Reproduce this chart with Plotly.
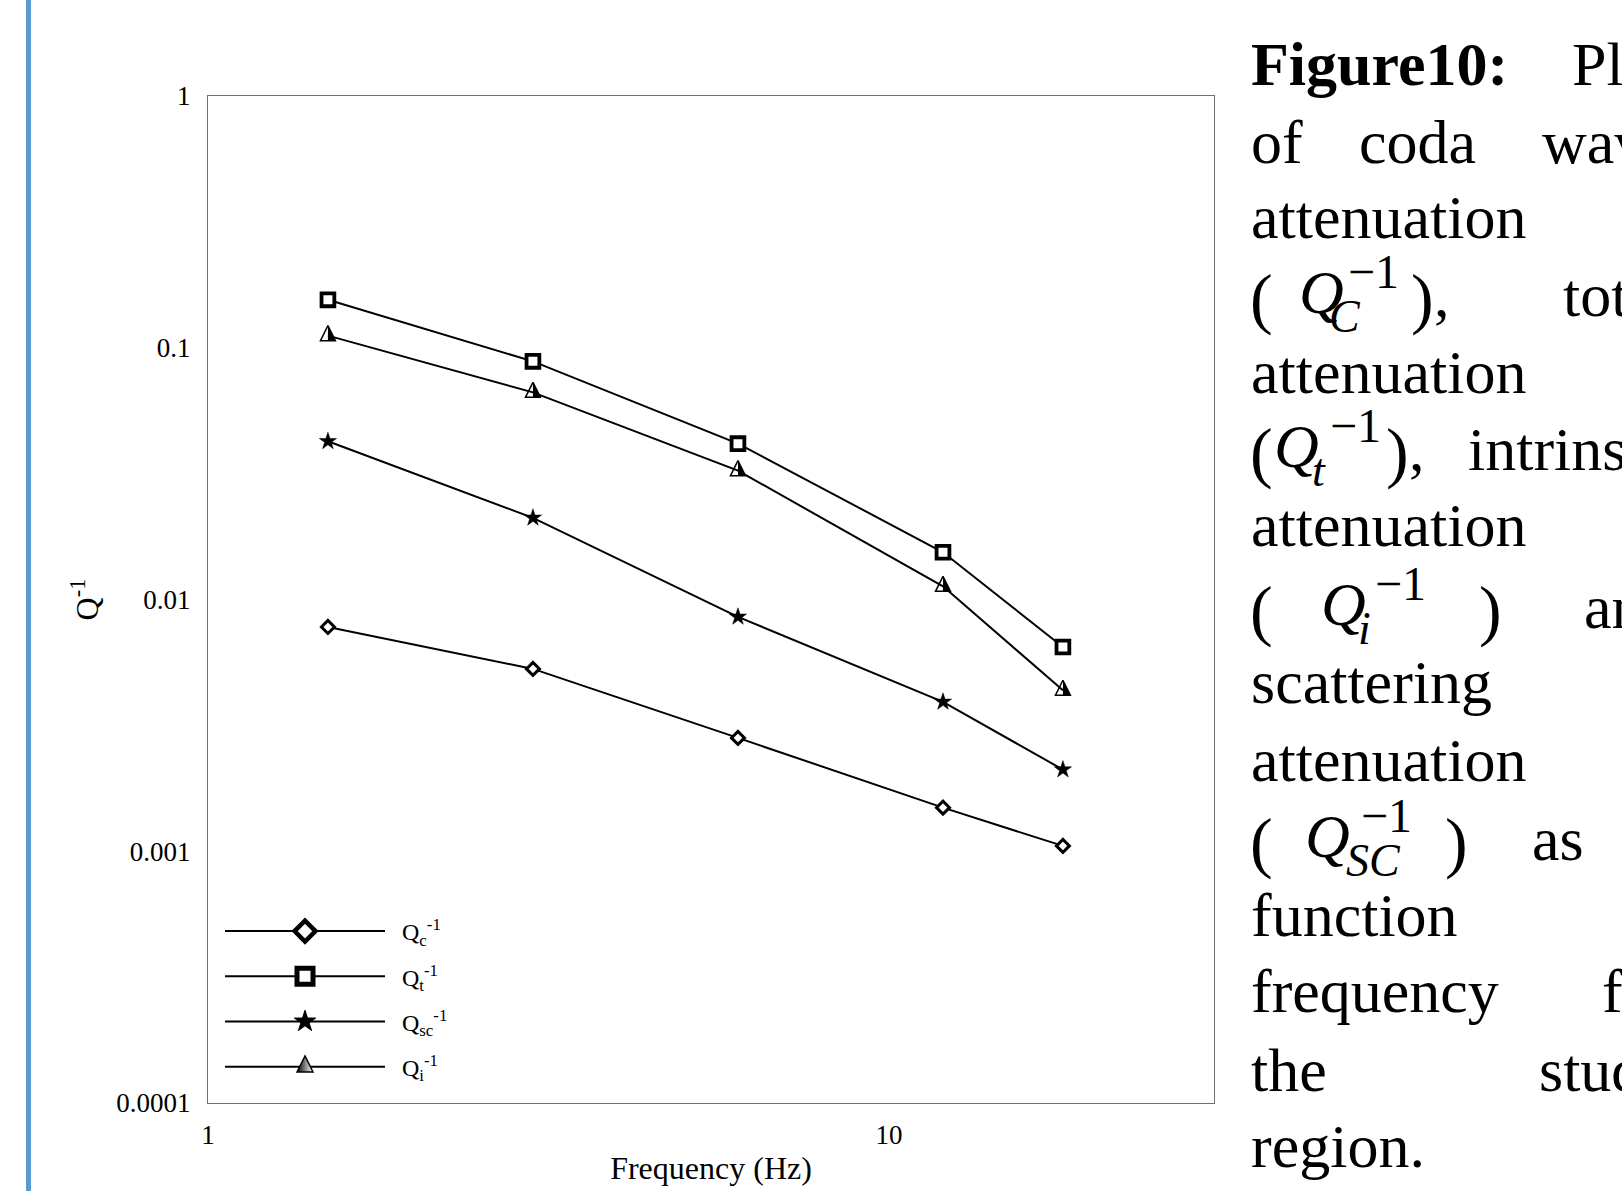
import plotly.graph_objects as go

# ---------------- data ----------------
freq = [1.5, 3, 6, 12, 18]
qc = [0.00778, 0.0053, 0.00282, 0.00149, 0.00105]
qt = [0.155, 0.0883, 0.0416, 0.0154, 0.00648]
qsc = [0.0425, 0.0211, 0.00853, 0.00392, 0.00211]
qi = [0.1117, 0.0665, 0.0325, 0.01128, 0.00436]

series_names = ["Q<sub>c</sub><sup>-1</sup>", "Q<sub>t</sub><sup>-1</sup>",
                "Q<sub>sc</sub><sup>-1</sup>", "Q<sub>i</sub><sup>-1</sup>"]

x_tickvals = [1, 10]
x_ticktext = ["1", "10"]
y_tickvals = [0.0001, 0.001, 0.01, 0.1, 1]
y_ticktext = ["0.0001", "0.001", "0.01", "0.1", "1"]

x_title = "Frequency (Hz)"
y_title = "Q<sup>-1</sup>"

# ---------------- geometry helpers ----------------
W, H = 1622, 1191
PL, PR, PT, PB = 208, 1214, 96, 1103


def px_x(px):
    return (px - PL) / (PR - PL)


def px_y(py):
    return (PB - py) / (PB - PT)


SERIF = "Liberation Serif, Times New Roman, serif"
BLACK = "#000000"
LW = 2.0

fig = go.Figure()

# Qc : diamond with white centre
fig.add_trace(go.Scatter(
    x=freq, y=qc, mode="lines+markers", showlegend=False,
    line=dict(color=BLACK, width=LW),
    marker=dict(symbol="diamond", size=10, color="white",
                line=dict(color=BLACK, width=3.0))))

# Qt : square with thick border
fig.add_trace(go.Scatter(
    x=freq, y=qt, mode="lines+markers", showlegend=False,
    line=dict(color=BLACK, width=LW),
    marker=dict(symbol="square", size=12.8, color="white",
                line=dict(color=BLACK, width=3.8))))

# Qsc : filled star
fig.add_trace(go.Scatter(
    x=freq, y=qsc, mode="lines+markers", showlegend=False,
    line=dict(color=BLACK, width=LW),
    marker=dict(symbol="star", size=13, color=BLACK,
                line=dict(color=BLACK, width=0.5))))

# Qi : half-filled triangle built from marker layers
TRI = 15.0
r = TRI / 2
so_main = 4 * r / 3          # puts the triangle's centroid on the data point
s_cov = 10 * r / 9           # half-size of the white cover for the left half
fig.add_trace(go.Scatter(
    x=freq, y=qi, mode="markers", showlegend=False, hoverinfo="skip",
    marker=dict(symbol="arrow-down", angle=180, standoff=so_main, size=TRI,
                color=BLACK, line=dict(width=0))))
fig.add_trace(go.Scatter(
    x=freq, y=qi, mode="markers", showlegend=False, hoverinfo="skip",
    marker=dict(symbol="triangle-ne", angle=90, standoff=0.6 * s_cov, size=2 * s_cov,
                color="white", line=dict(width=0))))
fig.add_trace(go.Scatter(
    x=freq, y=qi, mode="lines", showlegend=False,
    line=dict(color=BLACK, width=LW)))
fig.add_trace(go.Scatter(
    x=freq, y=qi, mode="markers", showlegend=False,
    marker=dict(symbol="arrow-down-open", angle=180, standoff=so_main, size=TRI,
                color=BLACK, line=dict(color=BLACK, width=1.5))))

# ---------------- legend entries ----------------
leg_markers = [
    dict(symbol="diamond", size=16, color="white", line=dict(color=BLACK, width=4.5)),
    dict(symbol="square", size=16, color="white", line=dict(color=BLACK, width=5)),
    dict(symbol="star", size=16, color=BLACK, line=dict(color=BLACK, width=1)),
    dict(symbol="arrow-up", angle=0, standoff=16 * 2 / 3, size=16, color=BLACK,
         gradient=dict(type="horizontal", color="white"),
         line=dict(color=BLACK, width=1.5)),
]
for i, (name, mk) in enumerate(zip(series_names, leg_markers)):
    fig.add_trace(go.Scatter(
        x=[None], y=[None], mode="lines+markers", name="\u00a0\u00a0" + name,
        legendgroup="g%d" % i,
        line=dict(color=BLACK, width=LW), marker=mk))

# ---------------- caption text on the right ----------------
QOFF, SUBOFF, SUPOFF, POFF = -3, 16, -28, 5
QS, SUBS, SUPS, PS = 62, 46, 48, 68
L = [85, 163, 238, 316, 393, 470, 546, 628, 703, 781, 860, 936, 1012, 1091, 1167]
caption = [
    # (x_px, baseline_px, text, size)
    (1250, L[0], "<b>Figure10:</b>", 62), (1571, L[0], "Plots", 62),
    (1250, L[1], "of", 62), (1358, L[1], "coda", 62), (1541, L[1], "waves", 62),
    (1250, L[2], "attenuation", 62),
    (1249, L[3] + POFF, "(", PS), (1298, L[3] + QOFF, "<i>Q</i>", QS),
    (1328, L[3] + SUBOFF, "<i>C</i>", SUBS), (1347, L[3] + SUPOFF, "−1", SUPS),
    (1410, L[3] + POFF, ")", PS), (1433, L[3], ",", 62), (1562, L[3], "total", 62),
    (1250, L[4], "attenuation", 62),
    (1249, L[5] + POFF, "(", PS), (1273, L[5] + QOFF, "<i>Q</i>", QS),
    (1311, L[5] + SUBOFF, "<i>t</i>", SUBS), (1329, L[5] + SUPOFF, "−1", SUPS),
    (1385, L[5] + POFF, ")", PS), (1408, L[5], ",", 62), (1467, L[5], "intrinsic", 62),
    (1250, L[6], "attenuation", 62),
    (1249, L[7] + POFF, "(", PS), (1320, L[7] + QOFF, "<i>Q</i>", QS),
    (1357, L[7] + SUBOFF, "<i>i</i>", SUBS), (1374, L[7] + SUPOFF, "−1", SUPS),
    (1478, L[7] + POFF, ")", PS), (1583, L[7], "and", 62),
    (1250, L[8], "scattering", 62),
    (1250, L[9], "attenuation", 62),
    (1249, L[10] + POFF, "(", PS), (1304, L[10] + QOFF, "<i>Q</i>", QS),
    (1345, L[10] + SUBOFF, "<i>SC</i>", SUBS), (1360, L[10] + SUPOFF, "−1", SUPS),
    (1444, L[10] + POFF, ")", PS), (1531, L[10], "as", 62),
    (1250, L[11], "function", 62),
    (1250, L[12], "frequency", 62), (1601, L[12], "for", 62),
    (1250, L[13], "the", 62), (1538, L[13], "study", 62),
    (1250, L[14], "region.", 62),
]
annotations = []
for xp, bp, txt, sz in caption:
    yc = bp - 0.3375 * sz
    annotations.append(dict(
        x=px_x(xp), y=px_y(yc), xref="paper", yref="paper",
        xanchor="left", yanchor="middle", showarrow=False, borderpad=0,
        text=txt, font=dict(family=SERIF, size=sz, color=BLACK)))

# blue vertical rule at the left edge
shapes = [dict(type="line", xref="paper", yref="paper",
               x0=px_x(28.5), x1=px_x(28.5), y0=px_y(H + 20), y1=px_y(-20),
               line=dict(color="#5b9bd5", width=5), layer="above")]

fig.update_layout(
    width=W, height=H,
    margin=dict(l=PL, r=W - PR, t=PT, b=H - PB, pad=0, autoexpand=False),
    paper_bgcolor="white", plot_bgcolor="white",
    font=dict(family=SERIF, color=BLACK),
    showlegend=True,
    legend=dict(x=px_x(220), y=px_y(909), xanchor="left", yanchor="top",
                bgcolor="rgba(0,0,0,0)", borderwidth=0,
                font=dict(family=SERIF, size=24, color=BLACK),
                itemwidth=160, traceorder="grouped", tracegroupgap=11),
    annotations=annotations,
    shapes=shapes,
    xaxis=dict(type="log", range=[0, 1.4771], tickvals=x_tickvals, ticktext=x_ticktext,
               showgrid=False, zeroline=False, ticks="", automargin=False,
               showline=True, mirror=True, linecolor="#707070", linewidth=1.4,
               tickfont=dict(family=SERIF, size=27, color=BLACK),
               ticklabelstandoff=7,
               title=dict(text=x_title, standoff=8,
                          font=dict(family=SERIF, size=32, color=BLACK))),
    yaxis=dict(type="log", range=[-4, 0], tickvals=y_tickvals, ticktext=y_ticktext,
               showgrid=False, zeroline=False, ticks="", automargin=False,
               showline=True, mirror=True, linecolor="#707070", linewidth=1.4,
               tickfont=dict(family=SERIF, size=27, color=BLACK),
               ticklabelstandoff=11,
               title=dict(text=y_title, standoff=7,
                          font=dict(family=SERIF, size=32, color=BLACK))),
)

fig.write_html("out.html")
